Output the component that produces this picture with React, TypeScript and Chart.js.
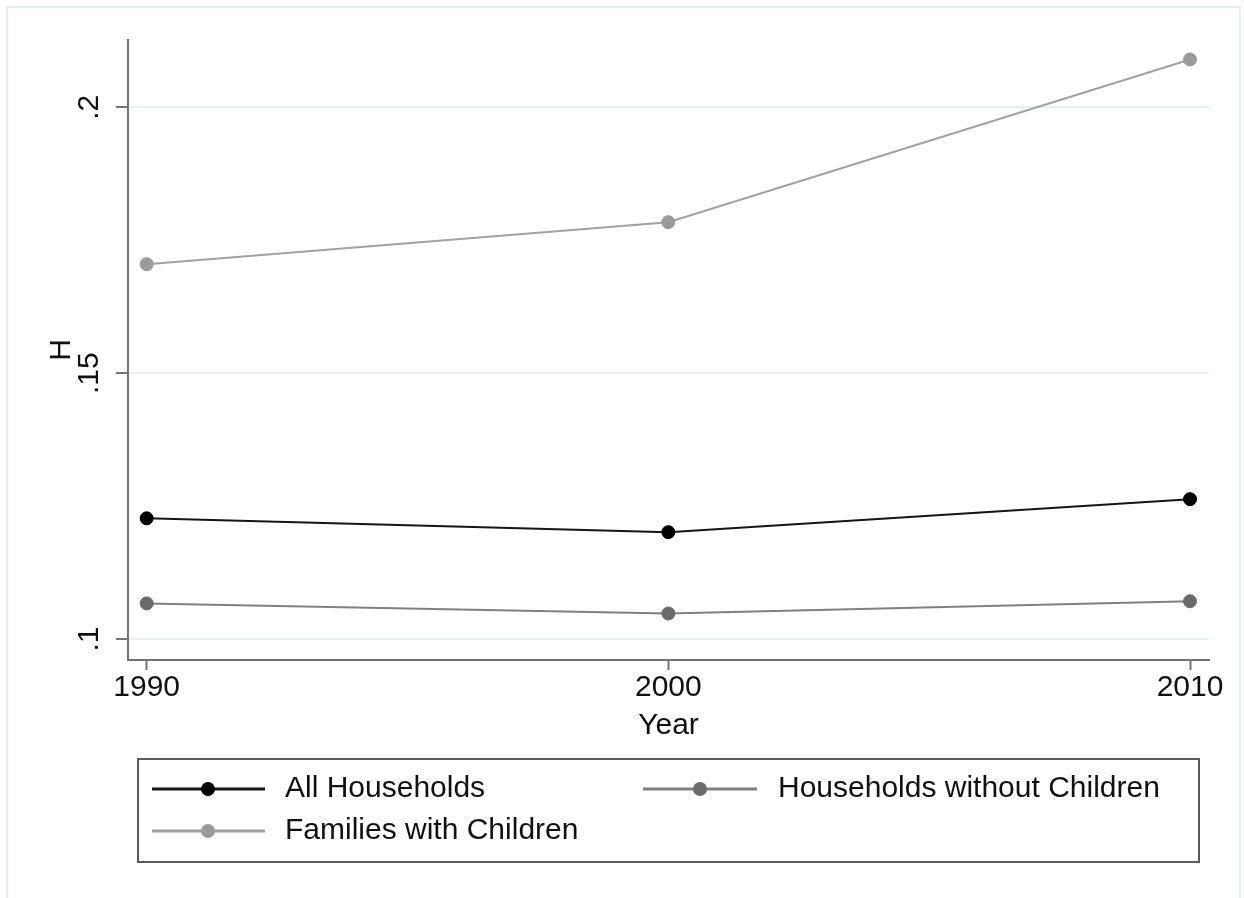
import React, { useEffect, useRef } from 'react';
import { Chart, registerables } from 'chart.js';

Chart.register(...registerables);

// ---- data ----
const years = [1990, 2000, 2010];
const allHouseholds = [0.1227, 0.1201, 0.1263];
const householdsWithoutChildren = [0.1067, 0.1048, 0.1071];
const familiesWithChildren = [0.1705, 0.1784, 0.209];
const seriesLabels = ['All Households', 'Households without Children', 'Families with Children'];
const xTickValues = [1990, 2000, 2010];
const xTickLabels = ['1990', '2000', '2010'];
const yTickValues = [0.1, 0.15, 0.2];
const yTickLabels = ['.1', '.15', '.2'];
const xTitle = 'Year';
const yTitle = 'H';

const FONT = "'Liberation Sans', Arial, Helvetica, sans-serif";
const FONT_SIZE = 30;

const toPoints = (vals: number[]) => years.map((y, i) => ({ x: y, y: vals[i] }));

const framePlugin = {
  id: 'stataFrame',
  beforeDraw(chart: any) {
    const ctx = chart.ctx;
    ctx.save();
    ctx.fillStyle = '#ffffff';
    ctx.fillRect(0, 0, chart.width, chart.height);
    ctx.strokeStyle = '#e5eeef';
    ctx.lineWidth = 2;
    ctx.strokeRect(7, 7, 1233, 900);
    ctx.restore();
  },
};

const legendPlugin = {
  id: 'stataLegend',
  afterDraw(chart: any) {
    const ctx = chart.ctx;
    ctx.save();
    ctx.strokeStyle = '#5a5a5a';
    ctx.lineWidth = 2;
    ctx.strokeRect(138, 759, 1061, 103);
    const slots = [
      { x0: 152, x1: 265, mx: 208, tx: 285, y: 789 },
      { x0: 643, x1: 757, mx: 700, tx: 778, y: 789 },
      { x0: 152, x1: 265, mx: 208, tx: 285, y: 831 },
    ];
    chart.data.datasets.forEach((ds: any, i: number) => {
      const s = slots[i];
      ctx.strokeStyle = ds.borderColor;
      ctx.lineWidth = 3;
      ctx.beginPath();
      ctx.moveTo(s.x0, s.y);
      ctx.lineTo(s.x1, s.y);
      ctx.stroke();
      ctx.fillStyle = ds.pointBackgroundColor;
      ctx.beginPath();
      ctx.arc(s.mx, s.y, 7, 0, Math.PI * 2);
      ctx.fill();
      ctx.fillStyle = '#111111';
      ctx.font = `${FONT_SIZE}px ${FONT}`;
      ctx.textAlign = 'left';
      ctx.textBaseline = 'middle';
      ctx.fillText(ds.label, s.tx, s.y);
    });
    ctx.restore();
  },
};

export default function App() {
  const canvasRef = useRef<HTMLCanvasElement | null>(null);

  useEffect(() => {
    document.body.style.margin = '0';
    const canvas = canvasRef.current;
    if (!canvas) return;
    const chart = new Chart(canvas, {
      type: 'line',
      data: {
        datasets: [
          {
            label: seriesLabels[0],
            data: toPoints(allHouseholds),
            borderColor: '#151515',
            borderWidth: 2,
            pointBackgroundColor: '#000000',
            pointBorderColor: '#000000',
            pointRadius: 6.5,
            pointBorderWidth: 1,
            tension: 0,
          },
          {
            label: seriesLabels[1],
            data: toPoints(householdsWithoutChildren),
            borderColor: '#808080',
            borderWidth: 2,
            pointBackgroundColor: '#6a6a6a',
            pointBorderColor: '#6a6a6a',
            pointRadius: 6.5,
            pointBorderWidth: 1,
            tension: 0,
          },
          {
            label: seriesLabels[2],
            data: toPoints(familiesWithChildren),
            borderColor: '#a2a2a2',
            borderWidth: 2,
            pointBackgroundColor: '#9a9a9a',
            pointBorderColor: '#9a9a9a',
            pointRadius: 6.5,
            pointBorderWidth: 1,
            tension: 0,
          },
        ],
      },
      options: {
        responsive: false,
        animation: false,
        events: [],
        layout: { padding: { left: 40, top: 40, right: 35, bottom: 154 } },
        plugins: {
          legend: { display: false },
          tooltip: { enabled: false },
          title: { display: false },
        },
        scales: {
          x: {
            type: 'linear',
            min: 1989.642,
            max: 2010.364,
            afterFit: (scale: any) => {
              scale.height = 84;
            },
            afterBuildTicks: (scale: any) => {
              scale.ticks = xTickValues.map((v) => ({ value: v }));
            },
            ticks: {
              autoSkip: false,
              maxRotation: 0,
              minRotation: 0,
              padding: 0,
              color: '#111111',
              font: { family: FONT, size: FONT_SIZE },
              callback: (_v: any, i: number) => xTickLabels[i],
            },
            grid: {
              display: true,
              drawOnChartArea: false,
              drawTicks: true,
              tickLength: 10,
              tickColor: '#747474',
              tickWidth: 2,
            },
            border: { display: true, color: '#747474', width: 2 },
            title: {
              display: true,
              text: xTitle,
              color: '#111111',
              font: { family: FONT, size: FONT_SIZE },
              padding: { top: 0, bottom: 0 },
            },
          },
          y: {
            type: 'linear',
            min: 0.09605,
            max: 0.21266,
            afterFit: (scale: any) => {
              scale.width = 88;
            },
            afterBuildTicks: (scale: any) => {
              scale.ticks = yTickValues.map((v) => ({ value: v }));
            },
            ticks: {
              autoSkip: false,
              minRotation: 90,
              maxRotation: 90,
              crossAlign: 'center',
              padding: 5,
              color: '#111111',
              font: { family: FONT, size: FONT_SIZE },
              callback: (_v: any, i: number) => yTickLabels[i],
            },
            grid: {
              display: true,
              drawOnChartArea: true,
              color: '#e8f1f1',
              lineWidth: 2,
              drawTicks: true,
              tickLength: 12,
              tickColor: '#747474',
              tickWidth: 2,
            },
            border: { display: true, color: '#747474', width: 2 },
            title: {
              display: true,
              text: yTitle,
              color: '#111111',
              font: { family: FONT, size: FONT_SIZE },
              padding: { top: 4, bottom: 0 },
            },
          },
        },
      },
      plugins: [framePlugin, legendPlugin],
    } as any);
    return () => chart.destroy();
  }, []);

  return (
    <div style={{ position: 'fixed', left: 0, top: 0, width: 1244, height: 898, background: '#ffffff' }}>
      <canvas ref={canvasRef} width={1244} height={898} style={{ display: 'block' }} />
    </div>
  );
}
